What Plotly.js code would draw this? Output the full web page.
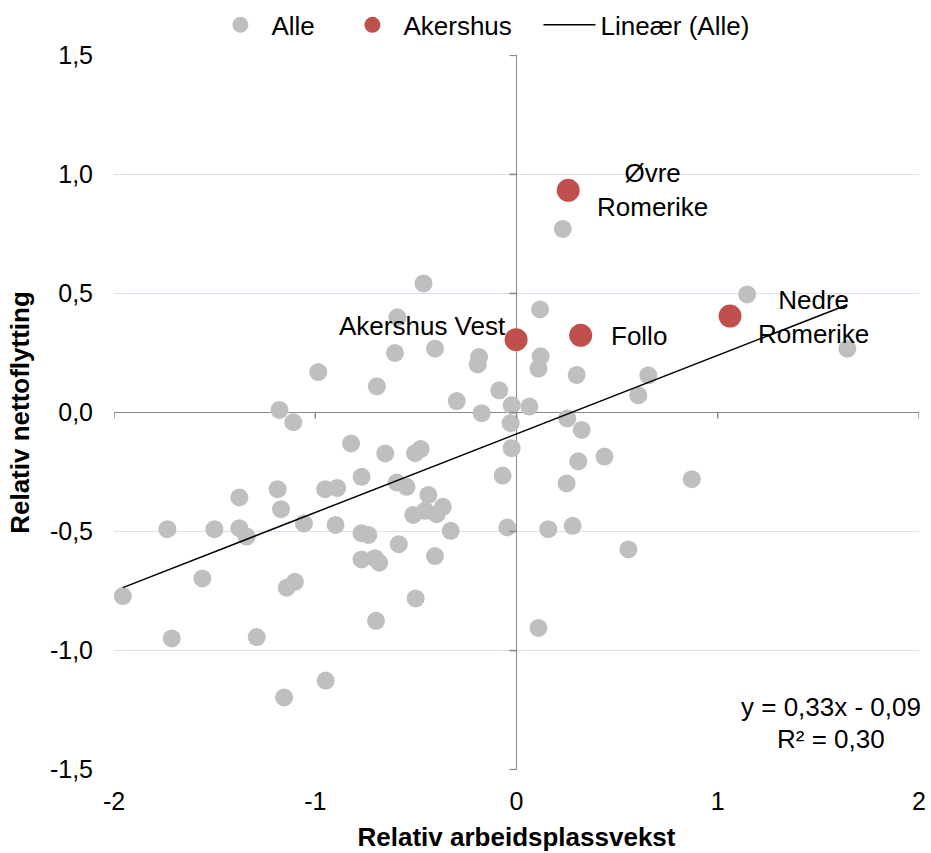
<!DOCTYPE html>
<html>
<head>
<meta charset="utf-8">
<script src="https://cdn.plot.ly/plotly-3.0.1.min.js"></script>
<style>html,body{margin:0;padding:0;background:#fff;}#chart{width:931px;height:853px;}</style>
</head>
<body>
<div id="chart"></div>
<script>
// Alle (all regions)
const alleX = [-1.956,-1.735,-1.713,-1.561,-1.501,-1.377,-1.377,-1.341,-1.291,-1.187,
  -1.178,-1.170,-1.155,-1.142,-1.109,-1.101,-1.056,-0.985,-0.948,-0.951,
  -0.891,-0.899,-0.822,-0.770,-0.770,-0.770,-0.736,-0.703,-0.698,-0.682,
  -0.694,-0.652,-0.592,-0.604,-0.595,-0.585,-0.546,-0.513,-0.504,-0.501,
  -0.476,-0.462,-0.454,-0.438,-0.405,-0.405,-0.397,-0.366,-0.327,-0.297,
  -0.186,-0.193,-0.173,-0.086,-0.024,0.064,-0.029,-0.024,-0.069,-0.046,
  0.109,0.158,0.230,0.117,0.120,0.109,0.299,0.655,0.605,0.252,
  0.324,1.146,1.644,0.437,0.307,0.249,0.871,0.279,0.556];
const alleY = [-0.771,-0.490,-0.949,-0.697,-0.490,-0.357,-0.486,-0.521,-0.943,-0.322,
  0.011,-0.406,-1.197,-0.736,-0.041,-0.711,-0.466,0.170,-1.126,-0.322,
  -0.317,-0.472,-0.130,-0.270,-0.617,-0.507,-0.514,-0.612,-0.875,-0.631,
  0.110,-0.172,0.400,0.250,-0.294,-0.553,-0.312,-0.430,-0.171,-0.781,
  -0.153,0.542,-0.413,-0.346,0.268,-0.603,-0.427,-0.396,-0.497,0.048,
  0.233,0.202,-0.003,0.093,0.030,0.025,-0.045,-0.150,-0.265,-0.483,
  -0.905,-0.490,0.771,0.433,0.236,0.184,0.158,0.156,0.072,-0.025,
  -0.073,0.496,0.268,-0.185,-0.205,-0.298,-0.280,-0.476,-0.575];
// Akershus regions
const akNames = ["Øvre<br>Romerike","Akershus Vest","Follo","Nedre<br>Romerike"];
const akX = [0.257,-0.002,0.319,1.061];
const akY = [0.933,0.306,0.324,0.405];
// Linear trend (Alle)
const trendSlope = 0.33;
const trendIntercept = -0.09;
const trendText = ["y = 0,33x - 0,09","R² = 0,30"];
// Series names
const seriesNames = ["Alle","Akershus","Lineær (Alle)"];
// Axes
const xTicks = [-2,-1,0,1,2];
const xTickText = ["-2","-1","0","1","2"];
const yTicks = [-1.5,-1.0,-0.5,0,0.5,1.0,1.5];
const yTickText = ["-1,5","-1,0","-0,5","0,0","0,5","1,0","1,5"];

const FONT = "Liberation Sans, Arial, sans-serif";
const FS = 26;
const TFS = 25;
const NB = "\u00a0";

const xmin = Math.min(...alleX), xmax = Math.max(...alleX);
const trendX = [xmin, xmax];
const trendY = trendX.map(v => trendSlope*v + trendIntercept);

const traces = [
  {type:'scatter', mode:'markers', name:seriesNames[0] + NB.repeat(3), x:alleX, y:alleY,
   marker:{color:'#BFBFBF', size:18}, hoverinfo:'x+y'},
  {type:'scatter', mode:'markers', name:seriesNames[1] + NB.repeat(3), x:akX, y:akY,
   marker:{color:'#C0504D', size:23}, hoverinfo:'x+y'},
  {type:'scatter', mode:'lines', name:seriesNames[2], x:trendX, y:trendY,
   line:{color:'#000000', width:1.5}, hoverinfo:'skip'}
];

// label offsets (pixels) for Akershus labels
const labelStyle = [
  {xshift:84, yshift:0, xanchor:'center'},
  {xshift:-8, yshift:14, xanchor:'right'},
  {xshift:28, yshift:-1, xanchor:'left'},
  {xshift:83, yshift:-1, xanchor:'center'}
];
const annotations = akNames.map((n,i)=>({
  x:akX[i], y:akY[i], xref:'x', yref:'y', text:n, showarrow:false,
  xanchor:labelStyle[i].xanchor, yanchor:'middle',
  xshift:labelStyle[i].xshift, yshift:labelStyle[i].yshift,
  font:{family:FONT, size:FS, color:'#000'}, align:'center'
}));
const eqY = [0.088, 0.043];
trendText.forEach((t,i)=>{
  annotations.push({
    xref:'paper', yref:'paper', x:0.891, y:eqY[i], xanchor:'center', yanchor:'middle',
    text:t, showarrow:false, font:{family:FONT, size:FS, color:'#000'}
  });
});

// tick marks on the crossing axes
const shapes = [];
yTicks.forEach(v=>{
  shapes.push({type:'line', xref:'x', yref:'y', xsizemode:'pixel', xanchor:0,
    x0:-7, x1:0, y0:v, y1:v, line:{color:'#898989', width:1.5}});
});
xTicks.forEach(v=>{
  shapes.push({type:'line', xref:'x', yref:'y', ysizemode:'pixel', yanchor:0,
    y0:-6, y1:0, x0:v, x1:v, line:{color:'#898989', width:1.5}});
});

const layout = {
  width:931, height:853,
  margin:{l:114, r:12, t:55, b:83, autoexpand:false},
  paper_bgcolor:'#fff', plot_bgcolor:'#fff',
  font:{family:FONT, size:FS, color:'#000'},
  showlegend:true,
  legend:{orientation:'h', x:0.457, xanchor:'center', y:1.042, yanchor:'middle',
    font:{family:FONT, size:FS, color:'#000'}, itemsizing:'trace', itemwidth:52,
    bgcolor:'rgba(0,0,0,0)'},
  xaxis:{range:[-2,2], tickvals:xTicks, ticktext:xTickText, showgrid:false,
    zeroline:true, zerolinecolor:'#898989', zerolinewidth:1.5, showline:false,
    ticks:'', ticklabelstandoff:14, tickfont:{family:FONT, size:TFS},
    title:{text:'<b>Relativ arbeidsplassvekst</b>', font:{family:FONT, size:FS}, standoff:13}},
  yaxis:{range:[-1.5015,1.5015], tickvals:yTicks, ticktext:yTickText, showgrid:true,
    gridcolor:'#D9E2F3', gridwidth:1.3,
    zeroline:true, zerolinecolor:'#898989', zerolinewidth:1.5, showline:false,
    ticks:'', ticklabelstandoff:20, tickfont:{family:FONT, size:TFS},
    title:{text:'<b>Relativ nettoflytting</b>', font:{family:FONT, size:FS}, standoff:12}},
  annotations:annotations,
  shapes:shapes
};

Plotly.newPlot('chart', traces, layout, {displayModeBar:false, staticPlot:true});
</script>
</body>
</html>
